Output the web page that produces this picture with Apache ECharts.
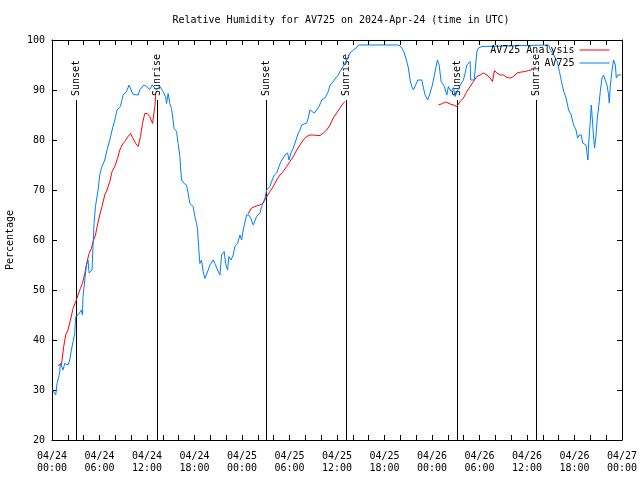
<!DOCTYPE html>
<html><head><meta charset="utf-8">
<script src="https://cdn.jsdelivr.net/npm/echarts@6/dist/echarts.min.js"></script>
<style>html,body{margin:0;padding:0;background:#fff}#c{width:640px;height:480px}</style>
</head><body><div id="c"></div>
<script>
// x values are hours since 2024-04-24 00:00 UTC
const tickLabels = ['04/24\n00:00','04/24\n06:00','04/24\n12:00','04/24\n18:00','04/25\n00:00','04/25\n06:00','04/25\n12:00','04/25\n18:00','04/26\n00:00','04/26\n06:00','04/26\n12:00','04/26\n18:00','04/27\n00:00'];

const sunEventHours = [3.02, 13.28, 27.03, 37.15, 51.12, 61.18];
const sunEventNames = ['Sunset','Sunrise','Sunset','Sunrise','Sunset','Sunrise'];

const obsHours = [0.05,0.47,0.63,0.97,1.06,1.39,1.61,2.02,2.24,2.45,2.66,2.87,3.0,3.29,3.72,3.84,3.92,4.14,4.35,4.55,4.68,4.86,5.06,5.18,5.31,5.49,5.82,6.03,6.25,6.66,6.95,7.30,7.59,7.93,8.22,8.65,8.98,9.41,9.74,10.24,10.88,11.09,11.60,11.94,12.35,12.65,13.20,13.62,14.04,14.34,14.47,14.67,14.88,15.10,15.43,15.73,15.93,16.15,16.36,16.69,17.0,17.20,17.41,17.83,18.05,18.26,18.39,18.55,18.68,18.89,19.09,19.31,19.52,19.73,19.94,20.36,20.57,20.92,21.21,21.42,21.75,21.93,22.18,22.34,22.60,22.89,23.10,23.44,23.74,23.95,24.15,24.58,24.87,25.13,25.42,25.85,26.27,26.48,26.68,26.90,27.11,27.53,27.74,28.07,28.38,28.67,28.92,29.21,29.43,29.77,29.93,30.18,30.48,30.69,30.91,31.11,31.32,31.54,32.17,32.37,32.59,32.80,33.13,33.43,33.73,34.07,34.48,34.90,35.12,35.53,35.84,36.17,36.38,36.80,37.23,37.65,38.06,38.40,38.70,43.84,44.18,44.51,44.81,45.02,45.23,45.45,45.65,45.86,46.21,46.71,46.92,47.13,47.47,47.76,48.05,48.39,48.68,48.90,49.15,49.31,49.57,49.87,50.07,50.41,50.71,50.92,51.26,51.55,51.97,52.19,52.40,52.82,52.88,53.33,53.67,53.87,54.30,54.50,62.74,62.96,63.38,63.81,64.10,64.35,64.64,64.94,65.25,65.59,65.88,66.19,66.39,66.60,66.86,67.02,67.27,67.45,67.58,67.70,67.78,67.99,68.12,68.29,68.41,68.54,68.72,68.88,69.04,69.26,69.47,69.67,69.89,70.10,70.31,70.39,70.52,70.74,70.94,71.16,71.28,71.50,71.70,71.91];
const obsValues = [30,29,31.3,33.4,35.4,34,35.3,35,36,38,39.7,41.3,44.7,45,46,45,48.7,52,55,56,53.4,53,54,58.7,63.3,66.7,70,73,74.4,76,78,80,82,84,86,86.7,89,89.7,91,89.1,89,90,91,90.7,90.1,91,90,90.7,89.7,88.7,87.3,89.3,87.3,86.3,82.3,81.7,79.3,76.7,72,71.3,71,69.3,67.3,66.7,64.7,63.3,62,58,55.3,56,53.7,52.3,52,54,55,56,55.3,54,53,57,57.7,55.3,54,56.7,56,57,58.7,59.3,61,60,62,65,65,64.3,63,64.7,65.4,66.7,66.4,68.4,70,70.7,71.7,73,73.4,74.7,75.7,76.4,77,77.4,76,77.4,78.4,79.4,80.4,81.4,82,83,83.4,84.4,86,86,85.4,86,86.7,88,88.4,89.7,91,91.7,92.4,93,93.7,94.7,96,97.4,98,98.4,99,99,98.4,97.4,95.7,94.4,92,90.7,90,90.4,92,92,90.4,89,88,89.4,91,93.7,96,95,91.7,92,90.7,89,90.7,89.7,90.5,88.7,90,91,92,93.4,95,95.7,92,92,97.7,98.4,98.7,99,99,98,97,95.7,93.7,91.7,89.7,88.4,86,85,83,82,80.4,81,81,79.4,79.7,79,77.4,76,79,83.7,87,83.4,80.4,78.4,81,84.4,86.4,89.7,92.4,93,92,91,89,87.4,90.7,94,96,95,92.4,93,92.7,93];

const analysisHours = [0.76,1.19,1.48,1.73,2.02,2.33,2.66,3.0,3.29,3.59,3.84,4.14,4.43,4.68,4.98,5.18,5.49,5.74,6.03,6.32,6.66,6.95,7.30,7.59,7.93,8.27,8.56,8.85,9.19,9.61,9.91,10.24,10.58,10.88,11.18,11.43,11.72,12.01,12.35,12.70,12.86,12.99,13.11,
  18.0,
  24.75,25.21,25.63,26.27,26.68,26.90,27.24,27.53,27.95,28.38,28.79,29.21,29.64,30.06,30.48,30.91,31.32,31.74,32.17,32.59,33.00,33.43,33.85,34.27,34.70,35.12,35.53,35.96,36.38,36.80,37.01,
  42.0,
  48.81,49.32,49.75,50.29,50.71,51.14,51.55,51.97,52.40,52.82,53.24,53.67,54.08,54.50,54.93,55.35,55.64,55.89,56.19,56.61,57.03,57.46,57.88,58.30,58.73,59.27,59.78,60.19,60.53,60.82,61.13];
const analysisValues = [35,35,38.7,41,42,44,46.3,47.7,49,50.3,51.3,53.3,55.7,57.3,58.3,59.7,61,63,65,66.7,69,70,71.7,73.7,74.7,76.3,78,79,79.7,80.7,81.3,80.3,79.3,78.7,80.7,83.3,85.3,85.3,84.7,83.3,83.3,86.7,89,
  null,
  65.2,66.4,66.7,67,67.4,67.7,69,69.7,70.7,72,73,73.7,74.7,75.7,76.7,78,79,80,80.7,81,81,80.9,80.9,81.4,82,83,84.4,85.4,86.4,87.4,87.7,
  null,
  87,87.3,87.6,87.2,87,86.7,87.7,88.4,89.7,90.7,91.7,92.7,93,93.4,93,92.4,91.7,93.9,93.4,93,93,92.5,92.4,92.7,93.4,93.6,93.7,93.9,94,94.4,94.5];

const FONT = 'DejaVu Sans Mono';
const chart = echarts.init(document.getElementById('c'), null, {renderer:'canvas'});

const pair = (hs, vs) => hs.map((h, i) => [h, vs[i] === null ? '-' : vs[i]]);

const axisCommon = {
  axisLine: {show: true, onZero: false, lineStyle: {color: '#000', width: 1}},
  axisTick: {show: true, inside: true, length: 5, lineStyle: {color: '#000'}},
  splitLine: {show: false}
};

chart.setOption({
  animation: false,
  backgroundColor: '#fff',
  title: {
    text: 'Relative Humidity for AV725 on 2024-Apr-24 (time in UTC)',
    left: 336, top: 10, textAlign: 'center',
    textStyle: {fontFamily: FONT, fontSize: 10, fontWeight: 'normal', color: '#000'}
  },
  legend: {
    data: ['AV725 Analysis', 'AV725'],
    orient: 'vertical', right: 30, top: 45, align: 'right',
    itemWidth: 30, itemHeight: 10, itemGap: 3, padding: 0,
    itemStyle: {opacity: 0},
    lineStyle: {width: 1},
    textStyle: {fontFamily: FONT, fontSize: 10, color: '#000'}
  },
  grid: {left: 52, right: 18, top: 40, bottom: 40, containLabel: false, outerBoundsMode: 'none'},
  xAxis: [
    Object.assign({}, axisCommon, {
      type: 'value', position: 'bottom', min: 0, max: 72, interval: 2,
      axisLabel: {
        show: true, margin: 10, fontFamily: FONT, fontSize: 10, color: '#000', lineHeight: 12,
        showMinLabel: true, showMaxLabel: true,
        formatter: v => (v % 6 === 0 ? tickLabels[v / 6] : '')
      }
    }),
    Object.assign({}, axisCommon, {
      type: 'value', position: 'top', min: 0, max: 72, interval: 2,
      axisLabel: {show: false}
    })
  ],
  yAxis: [
    Object.assign({}, axisCommon, {
      type: 'value', position: 'left', min: 20, max: 100, interval: 10,
      name: 'Percentage', nameLocation: 'middle', nameGap: 37, nameRotate: 90,
      nameTextStyle: {fontFamily: FONT, fontSize: 10, color: '#000'},
      axisLabel: {show: true, margin: 7, fontFamily: FONT, fontSize: 10, color: '#000'}
    }),
    Object.assign({}, axisCommon, {
      type: 'value', position: 'right', min: 20, max: 100, interval: 10,
      axisLabel: {show: false}
    })
  ],
  series: [
    {
      name: 'sun', type: 'custom', xAxisIndex: 0, yAxisIndex: 0,
      data: sunEventHours.map(h => [h, 88]),
      encode: {x: 0, y: 1},
      silent: true, z: 1,
      renderItem: function (params, api) {
        const t = api.value(0);
        const p0 = api.coord([t, 20]);
        const p1 = api.coord([t, api.value(1)]);
        const x = Math.round(p0[0]) + 0.5;
        return {
          type: 'group',
          children: [
            {type: 'line', shape: {x1: x, y1: p0[1], x2: x, y2: p1[1]}, style: {stroke: '#000', lineWidth: 1}},
            {type: 'text', x: x, y: p1[1] - 4, rotation: Math.PI / 2,
             style: {text: sunEventNames[params.dataIndex], fill: '#000', font: '10px "DejaVu Sans Mono"', align: 'left', verticalAlign: 'middle'}}
          ]
        };
      }
    },
    {
      name: 'AV725 Analysis', type: 'line', xAxisIndex: 0, yAxisIndex: 0,
      data: pair(analysisHours, analysisValues),
      symbol: 'none', showSymbol: false, connectNulls: false,
      lineStyle: {color: '#ff0000', width: 1}, itemStyle: {color: '#ff0000'}, z: 2
    },
    {
      name: 'AV725', type: 'line', xAxisIndex: 0, yAxisIndex: 0,
      data: pair(obsHours, obsValues),
      symbol: 'none', showSymbol: false,
      lineStyle: {color: '#0080ff', width: 1}, itemStyle: {color: '#0080ff'}, z: 3
    }
  ]
});
</script></body></html>
